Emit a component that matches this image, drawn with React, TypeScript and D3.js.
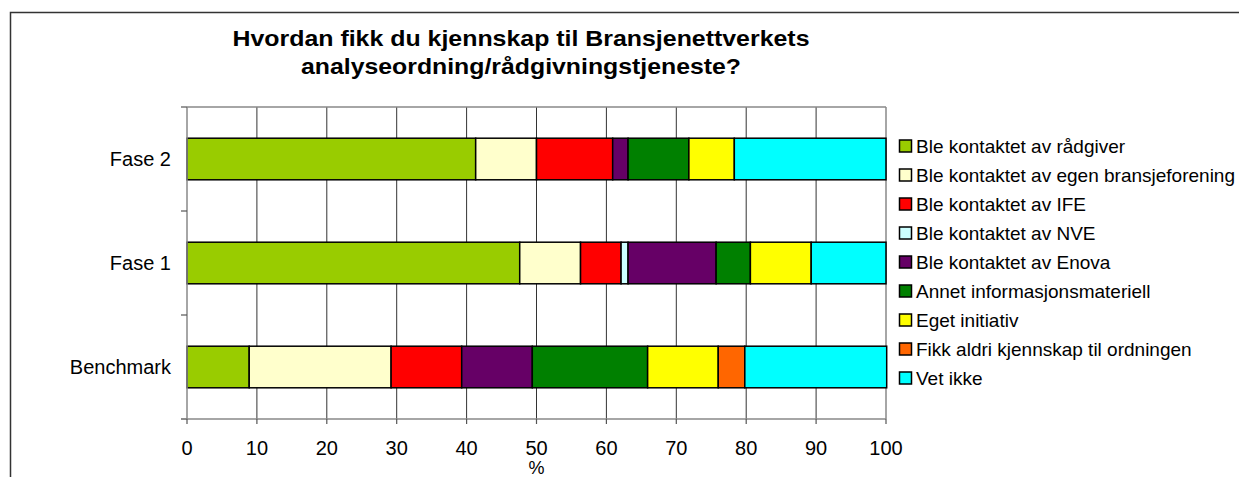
import React from "react";
import * as d3 from "d3";

// survey answers, share of respondents (%)
const categories = ["Fase 2", "Fase 1", "Benchmark"];

const answers = [
  "Ble kontaktet av rådgiver",
  "Ble kontaktet av egen bransjeforening",
  "Ble kontaktet av IFE",
  "Ble kontaktet av NVE",
  "Ble kontaktet av Enova",
  "Annet informasjonsmateriell",
  "Eget initiativ",
  "Fikk aldri kjennskap til ordningen",
  "Vet ikke",
];

const fase2 = [41.3, 8.7, 10.9, 0, 2.2, 8.7, 6.5, 0, 21.7];
const fase1 = [47.6, 8.7, 5.8, 1.0, 12.6, 4.9, 8.7, 0, 10.7];
const benchmark = [8.9, 20.3, 10.1, 0, 10.1, 16.5, 10.1, 3.8, 20.3];

const colors = [
  "#99CC00",
  "#FFFFCC",
  "#FF0000",
  "#CCFFFF",
  "#660066",
  "#008000",
  "#FFFF00",
  "#FF6600",
  "#00FFFF",
];

const xTicks = [0, 10, 20, 30, 40, 50, 60, 70, 80, 90, 100];

const W = 1239;
const H = 477;
const FONT = "'Liberation Sans', Arial, Helvetica, sans-serif";

export default function App() {
  const plot = { left: 187, right: 886, top: 107, bottom: 419 };

  const x = d3.scaleLinear().domain([0, 100]).range([plot.left, plot.right]);
  const y = d3
    .scaleBand()
    .domain(categories)
    .range([plot.top, plot.bottom])
    .paddingInner(0.6)
    .paddingOuter(0.3);

  const rows = [fase2, fase1, benchmark].map((vals, i) => {
    const row: any = { cat: categories[i] };
    answers.forEach((a, j) => (row[a] = vals[j]));
    return row;
  });
  const stacked = d3.stack().keys(answers)(rows);

  const step = y.step();
  const catTicks = d3.range(categories.length + 1).map((i) => plot.top + i * step);

  const legendX = 899;
  const legendY0 = 146;
  const legendStep = 29;

  return (
    <svg
      width={W}
      height={H}
      style={{ position: "absolute", left: 0, top: 0, background: "#fff" }}
      fontFamily={FONT}
    >
      {/* chart frame */}
      <rect x={10.5} y={12.5} width={W + 20} height={H + 20} fill="#fff" stroke="#333" strokeWidth={1.5} />

      {/* title */}
      <g fontWeight="bold" fontSize={22} textAnchor="middle" fill="#000">
        <text x={521} y={46} textLength={577} lengthAdjust="spacingAndGlyphs">
          Hvordan fikk du kjennskap til Bransjenettverkets
        </text>
        <text x={521} y={74} textLength={440} lengthAdjust="spacingAndGlyphs">
          analyseordning/rådgivningstjeneste?
        </text>
      </g>

      {/* grid */}
      {xTicks.slice(1, -1).map((t) => (
        <line key={t} x1={x(t)} x2={x(t)} y1={plot.top} y2={plot.bottom} stroke="#333" strokeWidth={1} />
      ))}
      <line x1={plot.left} x2={plot.right} y1={plot.top} y2={plot.top} stroke="#888" strokeWidth={1.5} />
      <line x1={plot.right} x2={plot.right} y1={plot.top} y2={plot.bottom} stroke="#888" strokeWidth={1.5} />

      {/* bars */}
      {stacked.map((s, si) => (
        <g key={s.key} fill={colors[si]} stroke="#000" strokeWidth={1.5}>
          {s
            .filter((d) => d[1] - d[0] > 0)
            .map((d) => (
              <rect
                key={d.data.cat}
                x={x(d[0])}
                y={y(d.data.cat)}
                width={x(d[1]) - x(d[0])}
                height={y.bandwidth()}
              />
            ))}
        </g>
      ))}

      {/* y axis */}
      <line x1={plot.left} x2={plot.left} y1={plot.top} y2={plot.bottom} stroke="#888" strokeWidth={1.5} />
      {catTicks.map((t) => (
        <line key={t} x1={plot.left - 6} x2={plot.left} y1={t} y2={t} stroke="#555" strokeWidth={1.2} />
      ))}
      {categories.map((c) => (
        <text
          key={c}
          x={171}
          y={y(c)! + y.bandwidth() / 2 + 7}
          textAnchor="end"
          fontSize={20}
          fill="#000"
        >
          {c}
        </text>
      ))}

      {/* x axis */}
      <line x1={plot.left - 6} x2={plot.right} y1={plot.bottom} y2={plot.bottom} stroke="#888" strokeWidth={1.5} />
      {xTicks.map((t) => (
        <g key={t}>
          <line x1={x(t)} x2={x(t)} y1={plot.bottom} y2={plot.bottom + 5} stroke="#555" strokeWidth={1.2} />
          <text x={x(t)} y={455} textAnchor="middle" fontSize={20} fill="#000">
            {t}
          </text>
        </g>
      ))}
      <text x={(plot.left + plot.right) / 2} y={474} textAnchor="middle" fontSize={18} fill="#000">
        %
      </text>

      {/* legend */}
      {answers.map((a, i) => (
        <g key={a} transform={`translate(${legendX},${legendY0 + i * legendStep})`}>
          <rect x={0.5} y={-6} width={12} height={12} fill={colors[i]} stroke="#000" strokeWidth={1.5} />
          <text x={17} y={7} fontSize={19} fill="#000">
            {a}
          </text>
        </g>
      ))}
    </svg>
  );
}
